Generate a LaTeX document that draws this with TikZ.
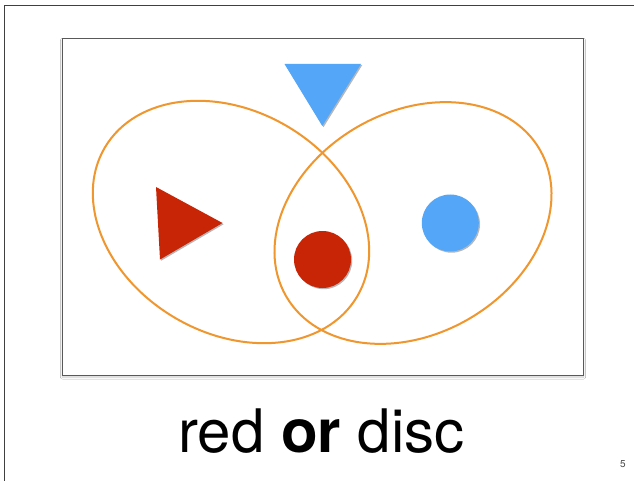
\documentclass[tikz,border=0pt]{standalone}
\usepackage{fontspec}
\setmainfont{TeX Gyre Heros}
\usetikzlibrary{shapes.geometric,shadows,shadows.blur}
\definecolor{setorange}{HTML}{F0962E}
\definecolor{shapered}{HTML}{C82506}
\definecolor{shapeblue}{HTML}{54A7F8}
\begin{document}
\begin{tikzpicture}[x=1pt,y=-1pt,
    setring/.style={ellipse, draw=setorange, line width=2pt, inner sep=0pt,
        minimum width=293pt, minimum height=222pt},
    shapeshadow/.style={drop shadow={shadow xshift=1.2pt, shadow yshift=-1.2pt,
        opacity=.4, fill=black!70}}]
    \useasboundingbox (0,0) rectangle (634,481);
    \fill[white] (0,0) rectangle (634,481);
    % slide border
    \draw[black!75, line width=0.9pt] (4.5,481) -- (4.5,5.5) -- (634,5.5);
    % frame
    \node[draw=black!65, line width=1pt, fill=white, anchor=north west,
        minimum width=521pt, minimum height=336.5pt, inner sep=0pt,
        blur shadow={shadow xshift=0pt, shadow yshift=-1.5pt, shadow blur steps=6,
        shadow opacity=20}] (frame) at (62,38.5) {};
    % objects
    \fill[shapered, shapeshadow] (156,187) -- (222.5,223) -- (160,259.5) -- cycle;
    \fill[shapeblue, shapeshadow] (284.5,64) -- (361,64) -- (322.3,126) -- cycle;
    \node[circle, fill=shapered, minimum size=57pt, inner sep=0pt, shapeshadow] (redDisc) at (322.5,259.5) {};
    \node[circle, fill=shapeblue, minimum size=57pt, inner sep=0pt, shapeshadow] (blueDisc) at (450.3,223) {};
    % sets
    \node[setring, rotate=-30.6] (setRed) at (231,222) {};
    \node[setring, rotate=30] (setDisc) at (413,223) {};
    % caption
    \node[font=\fontsize{60}{62}\selectfont, anchor=base, inner sep=0pt] (caption) at (321.5,452) {red \textbf{or} disc};
    \node[font=\fontsize{10}{12}\selectfont, text=black!70, anchor=base, inner sep=0pt] (pageNo) at (623,467) {5};
\end{tikzpicture}
\end{document}
